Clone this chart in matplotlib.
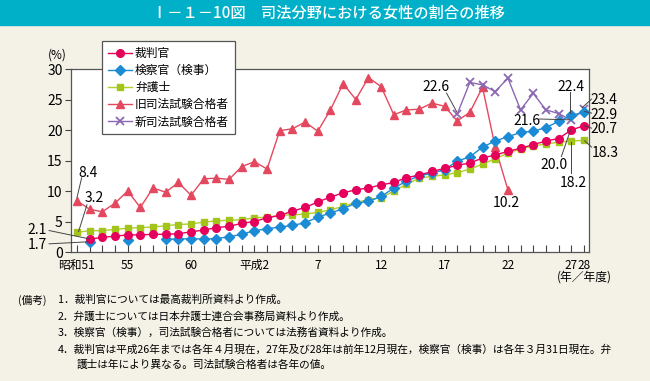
import numpy as np
import matplotlib
matplotlib.use('Agg')
import matplotlib.pyplot as plt
from matplotlib.patches import Rectangle

plt.rcParams['font.family'] = ['Noto Sans CJK JP', 'DejaVu Sans']

nan = np.nan
years = list(range(1976, 2017))

judge = [nan, 2.1, 2.4, 2.6, 2.8, 2.8, 2.9, 2.9, 3.0, 3.3, 3.6, 4.0, 4.2, 4.7, 5.0,
         5.6, 6.0, 6.7, 7.3, 8.2, 9.0, 9.7, 10.2, 10.5, 11.0, 11.4, 12.2, 12.6, 13.2,
         13.7, 14.2, 14.6, 15.4, 15.9, 16.5, 17.0, 17.6, 18.2, 18.6, 20.0, 20.7]
prosecutor = [nan, 1.7, nan, nan, 1.9, nan, nan, 2.1, 2.1, 2.2, 2.1, 2.2, 2.5, 2.9, 3.5,
              3.8, 4.1, 4.35, 4.8, 5.7, 6.4, 7.1, 8.0, 8.3, 9.1, 10.5, 11.6, 12.5, 12.9,
              13.5, 14.9, 15.6, 17.2, 18.2, 18.9, 19.6, 19.8, 20.4, 21.4, 22.4, 22.9]
lawyer = [3.2, 3.5, 3.5, 3.7, 3.9, 4.0, 4.1, 4.3, 4.5, 4.6, 4.9, 5.1, 5.2, 5.3, 5.6,
          5.7, 6.0, 6.1, 6.2, 6.5, 6.9, 7.5, 8.1, 8.6, 8.9, 10.0, 11.1, 12.1, 12.4,
          12.65, 13.0, 13.6, 14.4, 15.3, 16.2, 16.9, 17.4, 17.7, 18.0, 18.2, 18.3]
old_exam = [8.4, 7.0, 6.6, 8.0, 10.0, 7.3, 10.5, 9.8, 11.4, 9.3, 12.0, 12.1, 11.9, 14.0,
            14.8, 13.6, 19.9, 20.2, 21.3, 19.8, 23.3, 27.6, 25.0, 28.6, 27.1, 22.5, 23.3,
            23.4, 24.4, 23.9, 21.5, 22.9, 27.0, 17.2, 10.2] + [nan] * 6
new_exam = [nan] * 30 + [22.6, 27.8, 27.4, 26.3, 28.5, 23.3, 26.0, 23.3, 22.7, 21.6, 23.4]

tick_labels = {1976: '昭和51', 1980: '55', 1985: '60', 1990: '平成2', 1995: '7',
               2000: '12', 2005: '17', 2010: '22', 2015: '27', 2016: '28'}

W, H = 650, 381
fig = plt.figure(figsize=(6.5, 3.81), dpi=100, facecolor='#f4f1e7')

def fx(px):
    return px / W

def fy(py):
    return 1 - py / H

# title band
fig.add_artist(Rectangle((0, fy(25)), 1, 25 / H, transform=fig.transFigure,
                         color='#00b0c8', zorder=0))
fig.text(fx(328), fy(13), 'Ⅰ－１－10図　司法分野における女性の割合の推移',
         color='white', fontsize=11, fontweight='medium', ha='center', va='center')

ax = fig.add_axes([fx(71), fy(252), (589 - 71) / W, (252 - 69) / H])
ax.set_facecolor('white')

ax.plot(years, old_exam, color='#e4485e', marker='^', ms=6, lw=1.0, label='旧司法試験合格者', zorder=3)
ax.plot(years, new_exam, color='#8a68b2', marker='x', ms=6, mew=1.3, lw=1.0, label='新司法試験合格者', zorder=3)
ax.plot(years, lawyer, color='#b2cf2c', marker='s', ms=5, mfc='#a3c41a', mec='#a3c41a', lw=1.0, label='弁護士', zorder=4)
ax.plot(years, prosecutor, color='#1c8bd6', marker='D', ms=5, lw=1.0, label='検察官（検事）', zorder=5)
ax.plot(years, judge, color='#e5005b', marker='o', ms=5.5, lw=1.0, label='裁判官', zorder=6)

ax.set_xlim(1975.53, 2016.4)
ax.set_ylim(0, 30)
ax.set_yticks(range(0, 31, 5))
ax.set_xticks(years)
ax.set_xticklabels([tick_labels.get(y, '') for y in years])
ax.tick_params(axis='x', direction='in', length=5, width=0.8, color='#444', labelsize=8.5, pad=5)
ax.tick_params(axis='y', direction='out', length=4, width=0.8, color='#444', labelsize=10, pad=2)
for s in ax.spines.values():
    s.set_color('#555')
    s.set_linewidth(0.9)

fig.text(fx(57), fy(55), '(%)', fontsize=8.5, ha='center', va='center')
fig.text(fx(557), fy(277), '(年／年度)', fontsize=8.5, ha='left', va='center')

# legend in the order of the original
h, l = ax.get_legend_handles_labels()
order = [4, 3, 2, 0, 1]
leg = ax.legend([h[i] for i in order], [l[i] for i in order], loc='upper left',
                bbox_to_anchor=(fx(102), fy(41)), bbox_transform=fig.transFigure,
                fontsize=8.5, frameon=True, fancybox=False, framealpha=1,
                edgecolor='#555', borderaxespad=0, labelspacing=0.35,
                handlelength=2.0, handletextpad=0.3, borderpad=0.5)
leg.get_frame().set_linewidth(0.9)
leg.set_zorder(10)

# value callouts
def callout(txt, tx, ty, seg=None):
    ax.text(tx, ty, txt, fontsize=10, ha='center', va='center', clip_on=False, zorder=8)
    if seg:
        ax.plot([seg[0], seg[2]], [seg[1], seg[3]], color='#444', lw=0.7,
                clip_on=False, zorder=7)

callout('8.4', 1976.87, 13.0, (1976.37, 12.16, 1976.0, 8.9))
callout('3.2', 1977.34, 8.85, (1976.79, 7.74, 1976.13, 3.36))
callout('2.1', 1972.85, 3.64, (1973.8, 3.52, 1976.95, 2.16))
callout('1.7', 1972.85, 1.18, (1973.8, 1.34, 1976.87, 1.67))
callout('22.6', 2004.31, 27.13, (2005.16, 26.05, 2005.95, 23.03))
callout('10.2', 2009.89, 8.0)
callout('22.4', 2014.94, 27.13, (2014.94, 26.3, 2014.94, 22.8))
callout('23.4', 2017.6, 24.95, (2016.6, 25.07, 2015.88, 23.69))
callout('21.6', 2011.47, 21.5, (2012.5, 21.8, 2014.88, 21.67))
callout('22.9', 2017.6, 22.5, (2016.6, 22.77, 2016.06, 23.03))
callout('20.7', 2017.6, 20.15, (2016.6, 20.3, 2016.06, 20.69))
callout('18.3', 2017.7, 16.2, (2016.6, 17.2, 2016.06, 18.23))
callout('20.0', 2013.62, 14.3, (2014.22, 15.66, 2014.93, 19.92))
callout('18.2', 2015.2, 11.3, (2015.01, 12.93, 2015.01, 18.11))

# notes
nfs = 7.7
fig.text(fx(18), fy(300), '(備考)', fontsize=nfs, va='center')
notes = ['1．裁判官については最高裁判所資料より作成。',
         '2．弁護士については日本弁護士連合会事務局資料より作成。',
         '3．検察官（検事），司法試験合格者については法務省資料より作成。',
         '4．裁判官は平成26年までは各年４月現在，27年及び28年は前年12月現在，検察官（検事）は各年３月31日現在。弁']
for i, t in enumerate(notes):
    fig.text(fx(58), fy(300 + 16.5 * i), t, fontsize=nfs, va='center')
fig.text(fx(77), fy(365), '護士は年により異なる。司法試験合格者は各年の値。', fontsize=nfs, va='center')

fig.savefig('out.png', dpi=100, facecolor=fig.get_facecolor())
